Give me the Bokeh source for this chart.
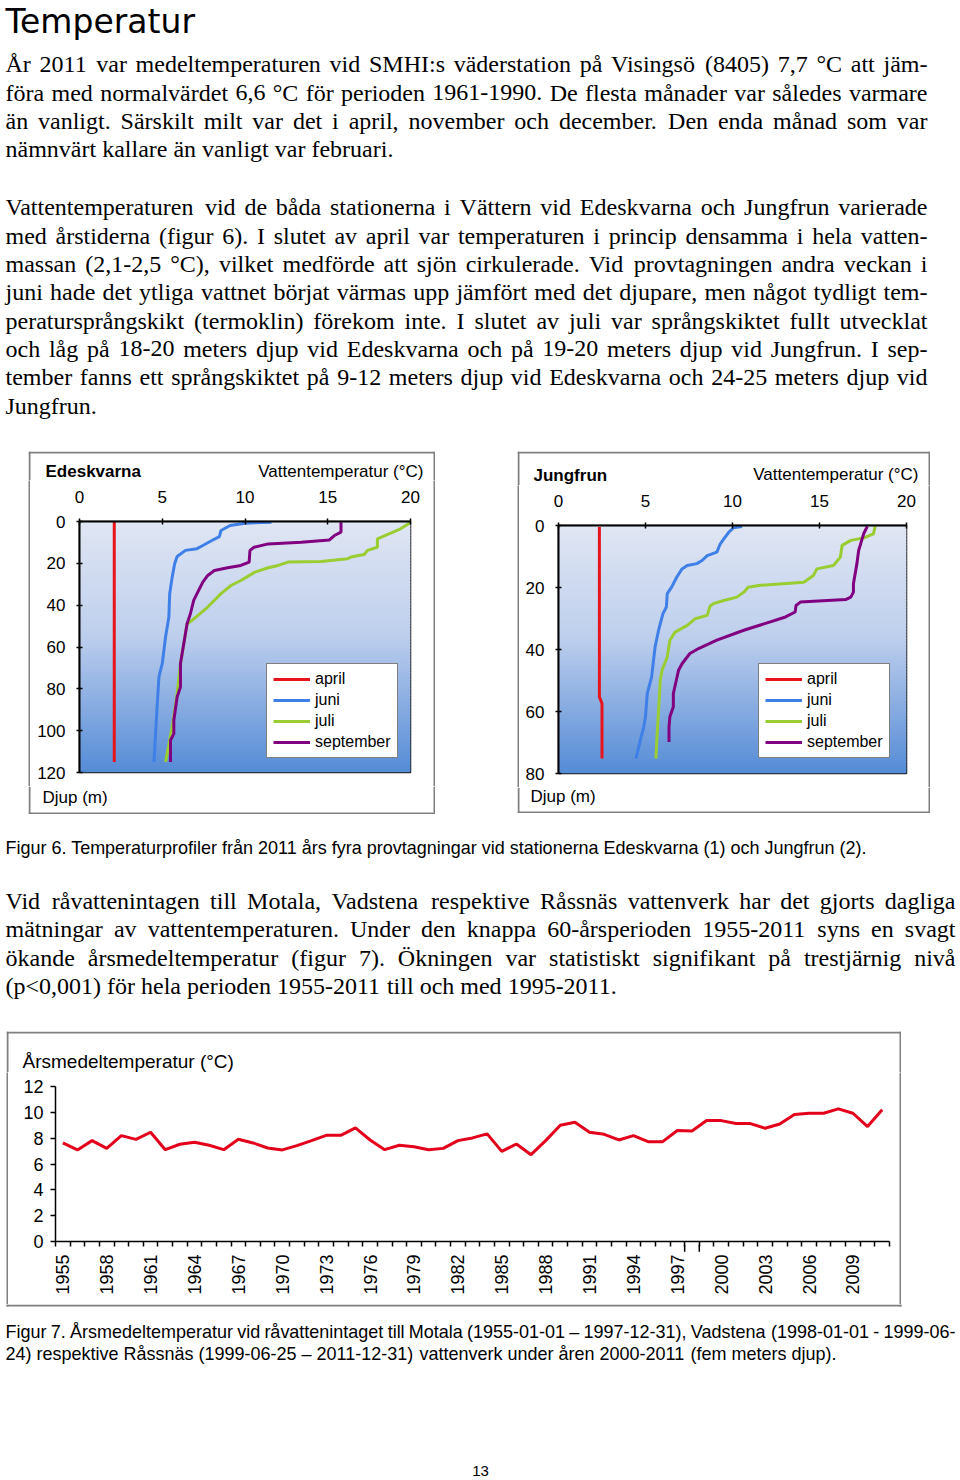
import math
from bokeh.plotting import figure
from bokeh.models import (Range1d, FixedTicker, Legend, LegendItem, Arrow, NormalHead,
                          ColumnDataSource, Spacer)
from bokeh.layouts import column, row
from bokeh.core.properties import value
from bokeh.embed import file_html
from bokeh.resources import INLINE

# ---------------------------------------------------------------- data
months = ["april", "juni", "juli", "september"]
month_colors = ["#e8141b", "#3f7fe8", "#9acd32", "#800080"]

# Edeskvarna: temperature (°C) vs depth (m)
ede_april_temp = [2.1, 2.1]
ede_april_depth = [0.0, 115.0]
ede_juni_temp = [11.6, 10.0, 9.1, 8.55, 8.45, 8.0, 7.45, 7.1, 6.4, 5.9, 5.75, 5.6, 5.45, 5.4, 5.2, 5.0, 4.8, 4.7, 4.5]
ede_juni_depth = [0.3, 0.8, 1.9, 4.3, 7.2, 9.1, 11.5, 13.0, 13.8, 16.7, 20.2, 26.6, 34.5, 45.7, 55.2, 68.0, 74.3, 87.0, 115.0]
ede_juli_temp = [20.0, 19.4, 18.7, 18.0, 18.0, 17.4, 17.2, 16.4, 16.2, 14.6, 12.6, 12.0, 11.4, 10.6, 9.75, 9.15, 8.55,
                 7.75, 6.8, 6.5, 6.3, 6.1, 5.9, 5.6, 5.2]
ede_juli_depth = [0.5, 3.5, 5.9, 8.3, 12.3, 13.8, 15.8, 17.0, 17.8, 19.1, 19.4, 21.0, 22.1, 24.2, 28.2, 30.6, 34.5,
                  40.9, 47.3, 48.9, 58.4, 68.0, 82.3, 98.2, 115.0]
ede_sep_temp = [15.8, 15.8, 15.4, 15.1, 13.4, 11.4, 10.55, 10.3, 10.25, 9.75, 8.95, 8.15, 7.75, 7.45, 7.1, 6.9, 6.7,
                6.5, 6.3, 6.1, 6.1, 5.9, 5.7, 5.7, 5.5, 5.5]
ede_sep_depth = [0.3, 5.1, 6.7, 8.8, 9.9, 10.7, 12.3, 13.8, 19.4, 21.0, 22.1, 23.4, 25.8, 29.0, 34.5, 37.7, 44.1,
                 48.9, 58.4, 68.0, 79.1, 83.9, 95.0, 101.4, 104.6, 115.0]

# Jungfrun
jun_april_temp = [2.35, 2.35, 2.5, 2.5]
jun_april_depth = [0.5, 55.3, 57.4, 75.2]
jun_juni_temp = [10.55, 10.05, 9.8, 9.5, 9.3, 9.1, 8.55, 8.25, 7.95, 7.4, 7.1, 6.8, 6.5, 6.25, 6.2, 6.0, 5.75, 5.55,
                 5.35, 5.1, 5.0, 4.9, 4.7, 4.45]
jun_juni_depth = [0.3, 0.75, 2.1, 4.3, 5.9, 8.6, 9.7, 11.3, 12.3, 12.9, 14.0, 16.6, 19.9, 22.0, 26.3, 28.5, 33.8, 39.2,
                  48.9, 54.2, 61.7, 65.0, 69.3, 75.2]
jun_juli_temp = [18.2, 18.1, 17.55, 16.8, 16.3, 16.2, 15.8, 14.85, 14.65, 14.1, 11.6, 10.9, 10.65, 10.25, 9.5, 8.9,
                 8.7, 8.55, 7.85, 7.4, 6.7, 6.4, 6.25, 5.95, 5.85, 5.75, 5.65, 5.6]
jun_juli_depth = [0.3, 2.7, 4.0, 4.8, 6.4, 10.2, 12.9, 14.0, 16.1, 18.3, 19.3, 19.9, 21.5, 23.1, 24.2, 25.2, 26.1,
                  29.0, 30.1, 32.2, 34.4, 37.0, 42.4, 46.7, 49.9, 59.6, 69.3, 75.2]
jun_sep_temp = [17.75, 17.55, 17.45, 17.25, 17.15, 16.95, 16.95, 16.8, 16.5, 13.9, 13.65, 13.6, 13.05, 10.65, 9.1,
                8.05, 7.55, 7.1, 6.9, 6.6, 6.6, 6.4, 6.35, 6.35]
jun_sep_depth = [0.3, 2.5, 4.3, 8.05, 12.3, 18.8, 21.5, 23.1, 23.9, 24.7, 25.8, 27.9, 29.5, 33.8, 37.0, 39.7, 41.3,
                 44.6, 46.7, 54.2, 58.5, 61.7, 65.0, 69.8]

profile_temp_ticks = [0, 5, 10, 15, 20]
ede_depth_ticks = [0, 20, 40, 60, 80, 100, 120]
jun_depth_ticks = [0, 20, 40, 60, 80]

# Annual mean water temperature at the raw-water intakes
years = list(range(1955, 2012))
annual_temp = [7.63, 7.09, 7.81, 7.21, 8.20, 7.91, 8.46, 7.11, 7.53, 7.68, 7.45, 7.11, 7.91, 7.63, 7.24, 7.09,
               7.42, 7.81, 8.22, 8.22, 8.79, 7.86, 7.11, 7.45, 7.34, 7.11, 7.21, 7.81, 8.02, 8.33, 6.98, 7.55,
               6.72, 7.81, 9.00, 9.23, 8.46, 8.30, 7.86, 8.20, 7.73, 7.73, 8.59, 8.56, 9.36, 9.36, 9.13, 9.13,
               8.77, 9.10, 9.83, 9.93, 9.93, 10.27, 9.93, 8.90, 10.20]
year_labels = list(range(1955, 2012, 3))
annual_y_ticks = [0, 2, 4, 6, 8, 10, 12]
station_change_years = [1998, 1999]

# ---------------------------------------------------------------- texts
heading = "Temperatur"
para1 = [
    "År 2011 var medeltemperaturen vid SMHI:s väderstation på Visingsö (8405) 7,7 °C att jäm-",
    "föra med normalvärdet 6,6 °C för perioden 1961-1990. De flesta månader var således varmare",
    "än vanligt. Särskilt milt var det i april, november och december. Den enda månad som var",
    "nämnvärt kallare än vanligt var februari.",
]
para2 = [
    "Vattentemperaturen vid de båda stationerna i Vättern vid Edeskvarna och Jungfrun varierade",
    "med årstiderna (figur 6). I slutet av april var temperaturen i princip densamma i hela vatten-",
    "massan (2,1-2,5 °C), vilket medförde att sjön cirkulerade. Vid provtagningen andra veckan i",
    "juni hade det ytliga vattnet börjat värmas upp jämfört med det djupare, men något tydligt tem-",
    "peratursprångskikt (termoklin) förekom inte. I slutet av juli var språngskiktet fullt utvecklat",
    "och låg på 18-20 meters djup vid Edeskvarna och på 19-20 meters djup vid Jungfrun. I sep-",
    "tember fanns ett språngskiktet på 9-12 meters djup vid Edeskvarna och 24-25 meters djup vid",
    "Jungfrun.",
]
caption6 = "Figur 6. Temperaturprofiler från 2011 års fyra provtagningar vid stationerna Edeskvarna (1) och Jungfrun (2)."
para3 = [
    "Vid råvattenintagen till Motala, Vadstena respektive Råssnäs vattenverk har det gjorts dagliga",
    "mätningar av vattentemperaturen. Under den knappa 60-årsperioden 1955-2011 syns en svagt",
    "ökande årsmedeltemperatur (figur 7). Ökningen var statistiskt signifikant på trestjärnig nivå",
    "(p<0,001) för hela perioden 1955-2011 till och med 1995-2011.",
]
caption7 = [
    "Figur 7. Årsmedeltemperatur vid råvattenintaget till Motala (1955-01-01 – 1997-12-31), Vadstena (1998-01-01 - 1999-06-",
    "24) respektive Råssnäs (1999-06-25 – 2011-12-31) vattenverk under åren 2000-2011 (fem meters djup).",
]
page_number = "13"
ede_title, jun_title = "Edeskvarna", "Jungfrun"
temp_axis_title = "Vattentemperatur (°C)"
depth_axis_title = "Djup (m)"
annual_title = "Årsmedeltemperatur (°C)"

# ---------------------------------------------------------------- font metrics (per 1000 em)
TIMES = dict(zip("ABCDEFGHIJKLMNOPQRSTUVWXYZ",
                 [722, 667, 667, 722, 611, 556, 722, 722, 333, 389, 722, 611, 889, 722, 722, 556, 722, 667, 556,
                  611, 722, 722, 944, 722, 722, 611]))
TIMES.update(zip("abcdefghijklmnopqrstuvwxyz",
                 [444, 500, 444, 500, 444, 333, 500, 500, 278, 278, 500, 278, 778, 500, 500, 500, 500, 333, 389,
                  278, 500, 500, 722, 500, 500, 444]))
TIMES.update({" ": 250, ".": 250, ",": 250, ":": 278, ";": 278, "-": 333, "(": 333, ")": 333, "°": 400,
              "<": 564, "–": 500, "å": 444, "ä": 444, "ö": 500, "Å": 722, "Ä": 722, "Ö": 722})
for _d in "0123456789":
    TIMES[_d] = 500

HELV = dict(zip("ABCDEFGHIJKLMNOPQRSTUVWXYZ",
                [667, 667, 722, 722, 667, 611, 778, 722, 278, 500, 667, 556, 833, 722, 778, 667, 778, 722, 667,
                 611, 722, 667, 944, 667, 667, 611]))
HELV.update(zip("abcdefghijklmnopqrstuvwxyz",
                [556, 556, 500, 556, 556, 278, 556, 556, 222, 222, 500, 222, 833, 556, 556, 556, 556, 333, 500,
                 278, 556, 500, 722, 500, 500, 500]))
HELV.update({" ": 278, ".": 278, ",": 278, ":": 278, "-": 333, "(": 333, ")": 333, "°": 400, "<": 584,
             "–": 556, "å": 556, "ä": 556, "ö": 556, "Å": 667, "Ä": 667, "Ö": 778})
for _d in "0123456789":
    HELV[_d] = 556

BASELINE_FIX = 0.33   # text glyphs render about a third of the font size below the given y


def em_width(s, table):
    return sum(table.get(ch, 500) for ch in s) / 1000.0


def layout_line(line, x0, x1, y, table, size, justify):
    words = line.split(" ")
    space = table[" "] / 1000.0
    s = size
    if justify and len(words) > 1:
        nat = sum(em_width(w, table) for w in words)
        min_total = nat + 0.6 * space * (len(words) - 1)
        if min_total * s > (x1 - x0):
            s = (x1 - x0) / min_total
        gap = ((x1 - x0) - nat * s) / (len(words) - 1)
    else:
        gap = space * s
    items = []
    x = x0
    for w in words:
        items.append((x, y, w, s))
        x += em_width(w, table) * s + gap
    return items


def paragraph(lines, x0, x1, y0, lh, table, size):
    items = []
    for k, line in enumerate(lines):
        items += layout_line(line, x0, x1, y0 + k * lh, table, size, k < len(lines) - 1)
    return items


# ---------------------------------------------------------------- helpers
GRAY = "#808080"


def no_align(p):
    try:
        p.frame_align = False
    except Exception:
        pass


def page_fig(x0, y0, x1, y1):
    """A bare figure whose data coordinates are the page's pixel coordinates."""
    f = figure(width=int(x1 - x0), height=int(y1 - y0), x_range=Range1d(x0, x1), y_range=Range1d(y1, y0),
               output_backend="svg", toolbar_location=None, x_axis_location=None, y_axis_location=None,
               min_border=0, title=None)
    no_align(f)
    f.grid.visible = False
    f.outline_line_color = None
    f.background_fill_color = "white"
    f.border_fill_color = "white"
    return f


def add_words(f, items, font, style="normal", align="left"):
    src = ColumnDataSource(dict(x=[i[0] for i in items],
                                y=[i[1] - BASELINE_FIX * i[3] for i in items],
                                text=[i[2] for i in items],
                                fs=["%.2fpx" % i[3] for i in items]))
    f.text(x="x", y="y", text="text", source=src, text_font=value(font), text_font_size="fs",
           text_font_style=value(style), text_baseline=value("alphabetic"), text_align=value(align),
           text_color="black")


def edges(f, x0, y0, x1, y1, top=False, bottom=False, sides=True):
    L, R, T, B = [], [], [], []
    if sides:
        L += [x0, x1 - 2]; R += [x0 + 2, x1]; T += [y0, y0]; B += [y1, y1]
    if top:
        L.append(x0); R.append(x1); T.append(y0); B.append(y0 + 2)
    if bottom:
        L.append(x0); R.append(x1); T.append(y1 - 2); B.append(y1)
    f.quad(left=L, right=R, top=T, bottom=B, fill_color=GRAY, line_color=None)


def solid(w, h):
    f = figure(width=w, height=h, output_backend="svg", toolbar_location=None, x_axis_location=None,
               y_axis_location=None, min_border=0, title=None, x_range=Range1d(0, 1), y_range=Range1d(0, 1))
    no_align(f)
    f.grid.visible = False
    f.outline_line_color = None
    f.background_fill_color = GRAY
    f.border_fill_color = GRAY
    return f


def grad_color(t):
    stops = [(0.0, (224, 230, 243)), (0.45, (190, 207, 237)), (1.0, (84, 139, 214))]
    for (t0, c0), (t1, c1) in zip(stops[:-1], stops[1:]):
        if t <= t1:
            u = (t - t0) / (t1 - t0)
            c = [int(round(a + (b - a) * u)) for a, b in zip(c0, c1)]
            return "#%02x%02x%02x" % tuple(c)
    return "#%02x%02x%02x" % stops[-1][1]


def profile_fig(area, frame, ymax, yticks, series, legend_loc):
    ax0, ay0, ax1, ay1 = area
    fx0, fy0, fx1, fy1 = frame
    p = figure(width=ax1 - ax0, height=ay1 - ay0, x_range=Range1d(0, 20), y_range=Range1d(ymax, 0),
               x_axis_location="above", output_backend="svg", toolbar_location=None, title=None,
               min_border_left=fx0 - ax0, min_border_right=ax1 - fx1,
               min_border_top=fy0 - ay0, min_border_bottom=ay1 - fy1)
    no_align(p)
    p.grid.visible = False
    p.background_fill_color = "white"
    p.border_fill_color = "white"
    p.outline_line_color = "#1a1a1a"
    p.outline_line_width = 1.5
    n = 80
    step = ymax / n
    tops = [i * step for i in range(n)]
    bottoms = [(i + 1) * step + step * 0.6 for i in range(n)]
    bottoms[-1] = ymax
    cols = [grad_color((i + 0.5) / n) for i in range(n)]
    p.quad(left=0, right=20, top=tops, bottom=bottoms, fill_color=cols, line_color=None)
    p.xaxis.ticker = FixedTicker(ticks=profile_temp_ticks)
    p.yaxis.ticker = FixedTicker(ticks=yticks)
    p.axis.axis_line_width = 2
    p.axis.axis_line_color = "black"
    p.axis.major_tick_in = 3
    p.axis.major_tick_out = 3
    p.axis.major_tick_line_width = 1.5
    p.axis.minor_tick_line_color = None
    p.axis.major_label_text_font = "Liberation Sans"
    p.axis.major_label_text_font_size = "17px"
    p.axis.major_label_text_color = "black"
    p.xaxis.major_label_standoff = 16
    p.yaxis.major_label_standoff = 11
    items = []
    for (temp, depth), name, col in zip(series, months, month_colors):
        r = p.line(temp, depth, line_color=col, line_width=3)
        items.append(LegendItem(label=name, renderers=[r]))
    leg = Legend(items=items, location=legend_loc, label_text_font="Liberation Sans",
                 label_text_font_size="16px", label_text_color="black", glyph_width=37, glyph_height=18,
                 label_height=18, label_standoff=5, spacing=3, padding=6, margin=0,
                 border_line_color="black", border_line_width=1.5, background_fill_color="white",
                 background_fill_alpha=1.0)
    p.add_layout(leg)
    return p


def boxed(box, y_split_top, y_split_bottom, chart, top_texts, bottom_texts, with_bottom=True):
    """Grey-framed chart block: top strip, [edge | chart | edge], bottom strip."""
    bx0, by0, bx1, by1 = box
    top = page_fig(bx0, by0, bx1, y_split_top)
    edges(top, bx0, by0, bx1, y_split_top, top=True)
    for (x, y, t, s, st, al) in top_texts:
        add_words(top, [(x, y, t, s)], "Liberation Sans", style=st, align=al)
    mid_h = y_split_bottom - y_split_top
    parts = [top, row(solid(2, mid_h), chart, solid(2, mid_h))]
    if with_bottom:
        bot = page_fig(bx0, y_split_bottom, bx1, by1)
        edges(bot, bx0, y_split_bottom, bx1, by1, bottom=True)
        for (x, y, t, s, st, al) in bottom_texts:
            add_words(bot, [(x, y, t, s)], "Liberation Sans", style=st, align=al)
        parts.append(bot)
    return column(*parts)


# ---------------------------------------------------------------- block A: heading + paragraphs (y 0-445)
figA = page_fig(0, 0, 960, 445)
add_words(figA, [(5, 32, heading, 33)], "DejaVu Sans")
add_words(figA, paragraph(para1, 5, 927, 71.7, 28.4, TIMES, 24), "Liberation Serif")
add_words(figA, paragraph(para2, 5, 927, 214.7, 28.33, TIMES, 24), "Liberation Serif")

# ---------------------------------------------------------------- block B: profile charts (y 445-825)
box1 = (28, 451, 435, 814)
p1 = profile_fig((30, 480, 433, 786), (79, 521, 410, 772), 120, ede_depth_ticks,
                 [(ede_april_temp, ede_april_depth), (ede_juni_temp, ede_juni_depth),
                  (ede_juli_temp, ede_juli_depth), (ede_sep_temp, ede_sep_depth)], (187, 14))
block1 = boxed(box1, 480, 786, p1,
               [(45, 477, ede_title, 17, "bold", "left"), (423, 476.5, temp_axis_title, 17, "normal", "right")],
               [(42, 803, depth_axis_title, 17, "normal", "left")])

box2 = (517, 451, 930, 813)
p2 = profile_fig((519, 485, 928, 787), (558, 525, 906, 773), 80, jun_depth_ticks,
                 [(jun_april_temp, jun_april_depth), (jun_juni_temp, jun_juni_depth),
                  (jun_juli_temp, jun_juli_depth), (jun_sep_temp, jun_sep_depth)], (200, 15))
block2 = boxed(box2, 485, 787, p2,
               [(533, 480.5, jun_title, 17, "bold", "left"), (918, 480, temp_axis_title, 17, "normal", "right")],
               [(530, 802, depth_axis_title, 17, "normal", "left")])

rowB = row(
    Spacer(width=28, height=380),
    column(Spacer(width=407, height=6), block1, Spacer(width=407, height=11)),
    Spacer(width=82, height=380),
    column(Spacer(width=413, height=6), block2, Spacer(width=413, height=12)),
    Spacer(width=30, height=380),
)

# ---------------------------------------------------------------- block C: caption 6 + paragraph 3 (y 825-1022)
figC = page_fig(0, 825, 960, 1022)
cap_size = (870 - 5) / em_width(caption6, HELV)
add_words(figC, [(5, 853, caption6, cap_size)], "Liberation Sans")
add_words(figC, paragraph(para3, 5, 955, 908.3, 28.4, TIMES, 24), "Liberation Serif")

# ---------------------------------------------------------------- block D: annual mean temperature (y 1022-1304)
boxD = (6, 1031, 901, 1306)
pD = figure(width=891, height=1304 - 1072, x_range=Range1d(1954.5, 2011.5), y_range=Range1d(0, 12),
            output_backend="svg", toolbar_location=None, title=None,
            min_border_left=55 - 8, min_border_right=899 - 889,
            min_border_top=1086 - 1072, min_border_bottom=1304 - 1241)
no_align(pD)
pD.grid.visible = False
pD.outline_line_color = None
pD.background_fill_color = "white"
pD.border_fill_color = "white"
pD.line(years, annual_temp, line_color="#e3001b", line_width=3)
pD.xaxis.ticker = FixedTicker(ticks=year_labels, minor_ticks=[y - 0.5 for y in years] + [years[-1] + 0.5])
pD.xaxis.major_label_orientation = math.pi / 2
pD.xaxis.major_tick_line_color = None
pD.xaxis.major_tick_out = 0
pD.xaxis.major_tick_in = 0
pD.xaxis.minor_tick_out = 5
pD.xaxis.minor_tick_in = 0
pD.xaxis.minor_tick_line_color = "black"
pD.xaxis.minor_tick_line_width = 1.5
pD.xaxis.major_label_standoff = 8
pD.yaxis.ticker = FixedTicker(ticks=annual_y_ticks)
pD.yaxis.major_tick_out = 5
pD.yaxis.major_tick_in = 0
pD.yaxis.minor_tick_line_color = None
pD.yaxis.major_tick_line_width = 1.5
pD.yaxis.major_label_standoff = 7
pD.axis.axis_line_color = "black"
pD.axis.axis_line_width = 1.5
pD.axis.major_label_text_font = "Liberation Sans"
pD.axis.major_label_text_font_size = "18px"
pD.axis.major_label_text_color = "black"
for yr in station_change_years:
    pD.add_layout(Arrow(end=NormalHead(size=7, fill_color="black", line_color="black"),
                        x_start=yr - 0.5, y_start=-4.35, x_end=yr - 0.5, y_end=-0.25,
                        line_color="black", line_width=1.5))
blockD = boxed(boxD, 1072, 1304, pD, [(22, 1067, annual_title, 19, "normal", "left")], [], with_bottom=False)

rowD = row(
    Spacer(width=6, height=282),
    column(Spacer(width=895, height=9), blockD),
    Spacer(width=59, height=282),
)

# ---------------------------------------------------------------- block E: box bottom edge, caption 7, page number (y 1304-1480)
figE = page_fig(0, 1304, 960, 1480)
edges(figE, boxD[0], 1304, boxD[2], boxD[3], bottom=True)
add_words(figE, layout_line(caption7[0], 5, 955, 1337, HELV, cap_size, True), "Liberation Sans")
add_words(figE, layout_line(caption7[1], 5, 955, 1359, HELV, cap_size, False), "Liberation Sans")
add_words(figE, [(480, 1475, page_number, 15)], "Liberation Sans", align="center")

layout = column(figA, rowB, figC, rowD, figE)
open("out.html", "w").write(file_html(layout, INLINE))
